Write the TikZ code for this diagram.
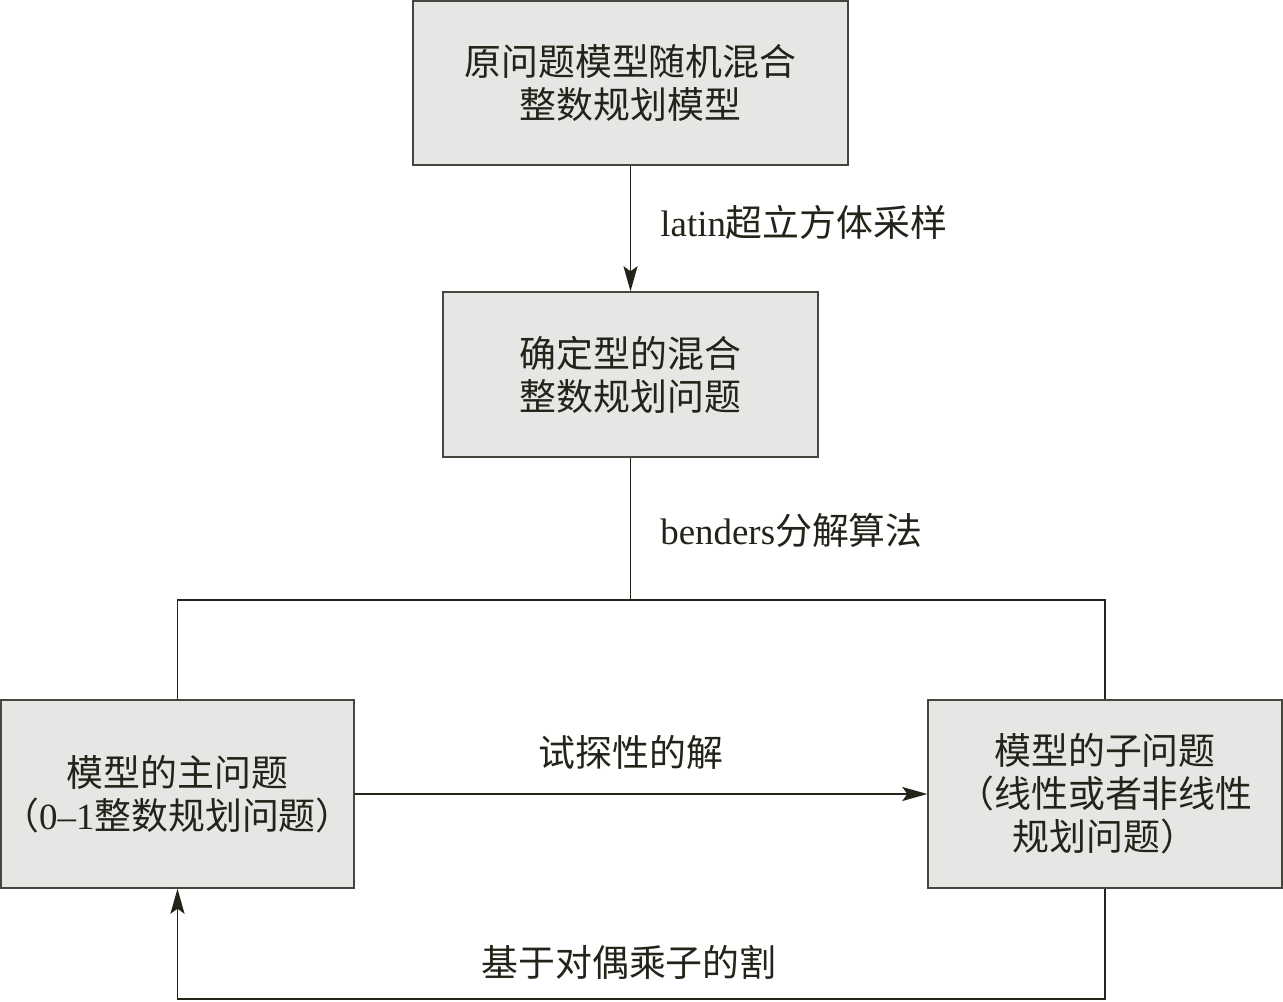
\documentclass[tikz,border=0pt]{standalone}
\usepackage{xcolor}
\usepackage{fontspec}
\setmainfont{Liberation Serif}
\newfontfamily\cjk{Noto Sans CJK SC}
\usepackage{tikz}
\usetikzlibrary{arrows.meta, positioning}
\definecolor{boxfill}{RGB}{230,230,228}
\definecolor{boxline}{RGB}{70,70,62}
\definecolor{inkdark}{RGB}{35,35,25}
\tikzset{
  stepbox/.style={rectangle, draw=boxline, fill=boxfill, align=center,
    inner sep=0pt, text=inkdark, line width=0.8pt,
    font=\cjk\fontsize{21}{24.5}\selectfont},
  lbl/.style={inner sep=0pt, text=inkdark,
    font=\cjk\fontsize{21}{24.5}\selectfont},
  arrow/.style={-{Stealth[length=5mm, width=2.8mm, inset=1mm]}, line width=1.1pt, color=inkdark},
  line/.style={line width=1.1pt, color=inkdark}
}

\begin{document}
\begin{tikzpicture}
  \useasboundingbox (0,0) rectangle (25.66,20.04);

  % Boxes
  \node[stepbox, minimum width=8.70cm, minimum height=3.28cm] (orig) at (12.61,18.38)
    {原问题模型随机混合\\整数规划模型};
  \node[stepbox, minimum width=7.50cm, minimum height=3.30cm] (det) at (12.61,12.55)
    {确定型的混合\\整数规划问题};
  \node[stepbox, minimum width=7.06cm, minimum height=3.76cm] (master) at (3.55,4.16)
    {模型的主问题\\（{\rmfamily 0--1}整数规划问题）};
  \node[stepbox, minimum width=7.08cm, minimum height=3.76cm] (sub) at (22.10,4.16)
    {模型的子问题\\（线性或者非线性\\规划问题）};

  % Labels
  \node[lbl, anchor=west] (sampling) at (13.20,15.60) {{\rmfamily latin}超立方体采样};
  \node[lbl, anchor=west] (benders) at (13.20,9.44) {{\rmfamily benders}分解算法};
  \node[lbl] (trial) at (12.62,5.00) {试探性的解};
  \node[lbl] (cut) at (12.58,0.80) {基于对偶乘子的割};

  % Connectors
  \coordinate (bus) at (12.61,8.04);
  \coordinate (loop) at (12.61,0.06);
  \draw[arrow] (orig) -- (det);
  \draw[line] (det.south) -- (bus);
  \draw[line] (master.north) |- (bus) -| (sub.north);
  \draw[arrow] (master) -- (sub);
  \draw[arrow] (sub.south) |- (loop) -| (master.south);
\end{tikzpicture}
\end{document}
